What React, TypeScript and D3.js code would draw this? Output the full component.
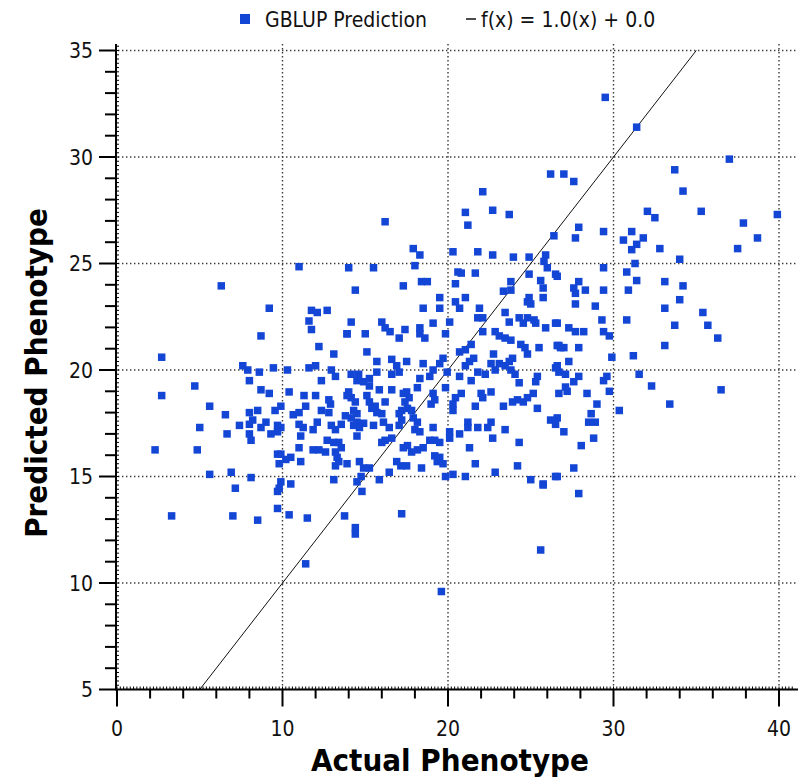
import React from "react";
import * as d3 from "d3";

// GBLUP prediction points: [actual phenotype, predicted phenotype]
const gblupPoints: [number, number][] = [
  [11.0,24.85],[14.0,24.8],[15.5,24.8],[16.2,26.96],[17.9,25.7],[18.3,25.4],[18.0,24.9],[20.3,25.55],
  [22.1,28.37],[21.05,27.4],[21.2,26.8],[22.7,27.5],[23.7,27.3],[21.8,25.55],[22.7,25.4],[23.95,25.3],
  [24.9,25.3],[25.9,25.4],[25.8,25.1],[26.0,24.8],[26.4,26.3],[26.2,29.2],[27.0,29.2],[20.6,24.6],
  [20.8,24.55],[21.65,24.55],[24.9,24.5],[26.5,24.5],[29.5,32.8],[31.4,31.4],[27.6,28.85],[37.0,29.9],
  [33.7,29.4],[34.2,28.4],[32.05,27.45],[32.5,27.15],[35.3,27.45],[39.9,27.3],[27.9,26.7],[27.7,26.2],
  [29.4,26.5],[31.1,26.5],[30.6,26.1],[31.8,26.2],[31.4,25.9],[31.1,25.65],[32.8,25.7],[37.85,26.9],
  [38.7,26.2],[37.5,25.7],[34.0,25.2],[29.4,24.8],[31.3,25.0],[30.8,24.6],
  [6.3,23.95],[9.2,22.9],[11.75,22.8],[12.1,22.7],[12.7,22.8],[11.6,22.3],[11.75,21.9],[8.7,21.6],
  [12.2,21.1],[13.1,20.75],[13.9,21.7],[2.7,20.6],[7.6,20.2],[7.9,20.0],[8.6,19.9],[9.45,20.1],
  [10.3,20.0],[11.6,20.1],[12.0,20.2],[12.95,20.0],[13.2,19.7],[8.0,19.5],[12.35,19.5],[4.7,19.25],
  [2.7,18.8],[8.7,19.07],[9.2,18.9],[10.4,18.97],[11.3,18.8],[12.0,18.8],[12.8,18.6],[12.9,18.4],
  [13.9,18.8],[5.6,18.3],[6.55,17.9],[8.0,18.0],[8.5,18.1],[9.55,18.1],[9.9,18.3],[10.65,17.9],
  [11.0,18.0],[11.4,18.3],[12.35,18.1],[12.8,18.0],[8.2,17.65],[8.0,17.45],[9.0,17.55],[8.7,17.3],
  [7.4,17.4],[5.0,17.3],[9.7,17.4],[9.9,17.3],[9.3,17.0],[9.7,17.1],[11.0,17.45],[11.25,17.3],
  [11.1,16.9],[12.1,17.55],[11.85,17.2],[12.95,17.4],[13.2,17.2],[13.55,17.45],[6.65,17.0],[8.0,17.0],
  [8.1,16.7],[12.7,16.7],[13.1,16.6],[13.4,16.6],[2.3,16.25],[4.85,16.25],[11.0,16.35],[11.85,16.25],
  [12.2,16.25],[12.6,16.15],[13.2,16.15],[9.7,16.05],[9.9,16.05],[10.5,15.9],[10.2,15.8],[11.1,15.7],
  [9.8,15.6],[13.3,15.9],[13.4,15.7],[13.2,15.5],[13.9,15.6],[5.6,15.1],[6.9,15.2],[8.1,14.95],
  [13.1,14.85],[7.15,14.45],[9.9,14.75],[9.8,14.45],[10.5,14.65],[9.7,14.3],
  [3.3,13.15],[7.0,13.15],[8.5,12.95],[9.7,13.5],[10.4,13.2],[11.5,13.05],[13.75,13.15],[11.4,10.9],
  [14.8,14.3],[14.4,12.6],[14.4,12.3],[17.2,13.25],[19.6,9.6],[25.6,11.55],[25.75,14.6],[27.9,14.2],
  [31.4,24.2],[27.9,24.15],[27.6,23.85],[27.7,23.6],[28.3,23.75],[29.4,23.75],[30.9,23.75],[33.1,24.15],
  [34.2,23.95],[34.0,23.3],[33.1,22.9],[35.4,22.7],[35.7,22.1],[36.3,21.5],[33.7,22.1],[33.1,21.15],
  [27.7,23.1],[28.9,23.0],[29.3,22.35],[30.8,22.35],[27.3,21.98],[27.7,21.8],[28.2,21.8],[29.4,21.8],
  [29.75,21.6],[26.7,21.15],[27.0,21.05],[27.9,21.05],[29.9,20.6],[31.2,20.67],[27.3,20.4],[31.55,19.8],
  [26.7,19.9],[27.1,19.8],[27.9,19.7],[29.6,19.7],[29.4,19.5],[27.6,19.45],[27.1,19.2],[27.2,19.0],
  [26.7,18.9],[28.4,18.9],[29.75,19.0],[32.3,19.25],[36.5,19.07],[33.4,18.4],[29.0,18.4],[30.35,18.1],
  [28.65,17.95],[28.5,17.55],[28.9,17.55],[27.0,17.1],[28.8,16.8],[28.05,16.45],[27.6,15.4],[26.6,15.0],
  [26.6,24.4],[26.6,22.2],[26.6,20.2],
  [14.4,23.75],[17.3,23.95],[18.4,24.15],[18.75,24.15],[20.45,24.05],[23.35,23.7],[23.8,23.75],[23.8,24.15],
  [25.6,24.2],[25.75,23.85],[24.9,23.4],[24.8,23.2],[25.0,23.1],[25.75,23.4],[19.5,23.4],[19.5,22.9],
  [18.5,22.9],[20.45,23.2],[20.7,22.9],[21.05,23.4],[21.9,22.9],[23.45,22.7],[14.15,22.25],[16.0,22.25],
  [16.2,21.98],[16.5,21.8],[13.9,21.7],[15.0,21.7],[17.4,21.9],[17.05,21.5],[18.3,21.98],[18.3,21.7],
  [18.6,21.5],[19.1,22.2],[19.85,21.7],[20.1,22.25],[21.8,22.45],[22.1,22.45],[22.1,21.8],[22.85,21.8],
  [23.1,21.6],[23.45,21.5],[23.8,21.4],[23.7,22.25],[24.3,22.45],[24.8,22.45],[25.2,22.35],[24.55,22.2],
  [25.3,22.2],[25.9,21.98],[26.5,22.2],[24.4,21.2],[24.65,21.05],[24.8,20.75],[25.5,21.05],[26.6,21.15],
  [26.8,21.05],[15.1,20.85],[15.7,20.4],[16.6,20.5],[16.9,20.2],[17.5,20.4],[18.5,20.3],[18.9,19.7],
  [19.1,20.0],[19.5,20.3],[19.7,20.55],[19.95,19.9],[20.7,20.85],[21.05,20.95],[21.4,21.2],[21.55,20.55],
  [21.3,20.4],[21.05,20.2],[20.7,19.7],[21.8,19.9],[22.25,19.8],[22.75,20.75],[21.4,19.5],[22.6,20.3],
  [22.85,20.0],[23.1,20.3],[23.45,20.2],[23.7,20.4],[23.8,20.0],[24.05,19.8],[23.9,20.55],[24.3,19.4],
  [25.4,19.7],[25.3,19.45],[26.5,20.1],[14.15,19.8],[14.6,19.8],[14.5,19.5],[14.9,19.45],[15.25,19.6],
  [15.25,19.25],[15.7,19.9],[16.6,19.8],[17.05,19.9],[18.3,19.6],[14.0,18.97],[14.15,18.7],[14.4,18.5],
  [14.3,18.1],[14.5,17.95],[15.1,18.8],[15.25,18.5],[15.4,18.2],[15.6,18.3],[15.7,18.0],[16.0,17.95],
  [16.2,18.5],[15.85,19.07],[16.6,19.07],[17.3,18.9],[17.5,18.97],[17.65,18.7],[17.4,18.5],[17.2,18.1],
  [17.55,18.2],[17.8,18.1],[18.15,19.17],[19.1,18.9],[19.2,18.6],[18.98,18.4],[19.85,19.17],[20.45,18.7],
  [20.3,18.4],[20.3,18.1],[20.8,18.9],[21.65,18.3],[22.0,18.9],[22.1,18.7],[22.6,18.97],[23.35,18.3],
  [23.9,18.5],[24.2,18.6],[24.55,18.5],[24.8,18.7],[25.15,18.9],[25.4,18.2],[26.2,17.65],[13.8,17.85],
  [14.15,17.75],[14.5,17.55],[14.3,17.4],[14.65,17.3],[14.9,17.5],[13.55,16.35],[14.5,16.9],[15.5,17.4],
  [16.1,17.55],[16.45,17.3],[16.2,16.7],[16.6,16.8],[16.0,16.6],[17.05,17.95],[17.2,17.65],[17.05,17.4],
  [17.9,17.75],[18.15,17.55],[18.0,17.2],[18.3,17.1],[19.1,17.3],[18.9,16.7],[19.2,16.7],[19.5,16.6],
  [17.55,16.45],[17.3,16.35],[17.8,16.15],[18.15,16.25],[18.5,16.35],[20.1,17.1],[20.1,16.8],[20.7,17.0],
  [21.2,17.3],[21.2,17.55],[21.8,17.3],[22.4,17.3],[22.6,17.55],[22.7,16.8],[23.45,17.2],[24.3,16.6],
  [21.3,16.35],[14.65,15.7],[14.9,15.4],[15.25,15.4],[14.75,15.0],[14.5,14.75],[15.85,14.85],[16.45,15.2],
  [16.9,15.7],[17.15,15.5],[17.5,15.5],[18.4,15.4],[19.2,15.97],[19.5,15.9],[19.35,15.7],[19.7,15.6],
  [19.85,15.0],[20.3,15.1],[21.05,15.0],[21.65,15.6],[22.85,15.2],[24.2,15.5],[25.0,14.85],[25.75,14.65],
  [26.5,15.0],[26.6,17.75],[26.5,17.45]
];

const xTickLabels = [0, 10, 20, 30, 40];
const yTickLabels = [5, 10, 15, 20, 25, 30, 35];
const fitSlope = 1.0;
const fitIntercept = 0.0;
const legendPointLabel = "GBLUP Prediction";
const legendLineLabel = "f(x) = 1.0(x) + 0.0";
const xTitle = "Actual Phenotype";
const yTitle = "Predicted Phenotype";

const W = 798;
const H = 778;
const FONT = "'DejaVu Sans Condensed', 'DejaVu Sans', Verdana, sans-serif";
const BLUE = "#1446d6";

export default function App() {
  const x = d3.scaleLinear().domain([0, 40]).range([117, 779]);
  const y = d3.scaleLinear().domain([5, 35]).range([689.5, 50.5]);
  const left = x(0) - 1;
  const bottom = y(5);
  const top = 44;
  const right = W;

  const yMinor = d3.range(5, 35.001, 1);
  const yMicro = d3.range(5, 35.3, 0.2);
  const xMinor = d3.range(0, 40.001, 2);
  const xMicro = d3.range(0, 41, 0.2);

  const lx0 = (5 - fitIntercept) / fitSlope;
  const lx1 = (35 - fitIntercept) / fitSlope;

  const sq = 7.5;

  return (
    <svg
      width={W}
      height={H}
      style={{ position: "absolute", left: 0, top: 0, background: "#fff" }}
      fontFamily={FONT}
    >
      <rect x={0} y={0} width={W} height={H} fill="#fff" />
      <g stroke="#3a3a3a" strokeWidth={1.4} strokeDasharray="1.4,2.6">
        {yTickLabels.filter((v) => v > 5).map((v) => (
          <line key={"gy" + v} x1={left + 2} x2={right} y1={y(v)} y2={y(v)} />
        ))}
        {xTickLabels.filter((v) => v > 0).map((v) => (
          <line key={"gx" + v} x1={x(v)} x2={x(v)} y1={top} y2={bottom} />
        ))}
      </g>

      <line
        x1={x(lx0)}
        y1={y(fitSlope * lx0 + fitIntercept)}
        x2={x(lx1)}
        y2={y(fitSlope * lx1 + fitIntercept)}
        stroke="#111"
        strokeWidth={1}
      />

      <g fill={BLUE}>
        {gblupPoints.map(([a, p], i) => (
          <rect key={i} x={x(a) - sq / 2} y={y(p) - sq / 2} width={sq} height={sq} />
        ))}
      </g>

      <line x1={left} x2={left} y1={top} y2={bottom + 1} stroke="#000" strokeWidth={2} />
      {yMicro.map((v, i) => (
        <line key={"ym" + i} x1={left} x2={left + 3} y1={y(v)} y2={y(v)} stroke="#000" strokeWidth={1} />
      ))}
      {yMinor.map((v) => (
        <line
          key={"yt" + v}
          x1={left - (v % 5 === 0 ? 17 : 11)}
          x2={left}
          y1={y(v)}
          y2={y(v)}
          stroke="#000"
          strokeWidth={2}
        />
      ))}
      {yTickLabels.map((v) => (
        <text key={"yl" + v} x={93} y={y(v)} dy="0.36em" textAnchor="end" fontSize={21} fill="#111">
          {v}
        </text>
      ))}

      <line x1={left} x2={right} y1={bottom} y2={bottom} stroke="#000" strokeWidth={2} />
      {xMicro.map((v, i) => (
        <line key={"xm" + i} x1={x(v)} x2={x(v)} y1={bottom - 3} y2={bottom} stroke="#000" strokeWidth={1} />
      ))}
      {xMinor.map((v) => (
        <line
          key={"xt" + v}
          x1={x(v)}
          x2={x(v)}
          y1={bottom}
          y2={bottom + (v % 10 === 0 ? 17 : 9)}
          stroke="#000"
          strokeWidth={2}
        />
      ))}
      {xTickLabels.map((v) => (
        <text key={"xl" + v} x={x(v)} y={728} dy="0.36em" textAnchor="middle" fontSize={21} fill="#111">
          {v}
        </text>
      ))}

      <text x={450} y={760} dy="0.36em" textAnchor="middle" fontSize={31} fontWeight="bold" fill="#000">
        {xTitle}
      </text>
      <text
        transform={`translate(36,${373}) rotate(-90)`}
        dy="0.36em"
        textAnchor="middle"
        fontSize={31}
        fontWeight="bold"
        fill="#000"
      >
        {yTitle}
      </text>

      <rect x={240} y={14} width={10} height={10} fill={BLUE} />
      <text x={265} y={19} dy="0.36em" fontSize={21} fill="#111">
        {legendPointLabel}
      </text>
      <line x1={466} x2={476} y1={19} y2={19} stroke="#111" strokeWidth={1.5} />
      <text x={481} y={19} dy="0.36em" fontSize={21} fill="#111">
        {legendLineLabel}
      </text>
    </svg>
  );
}
